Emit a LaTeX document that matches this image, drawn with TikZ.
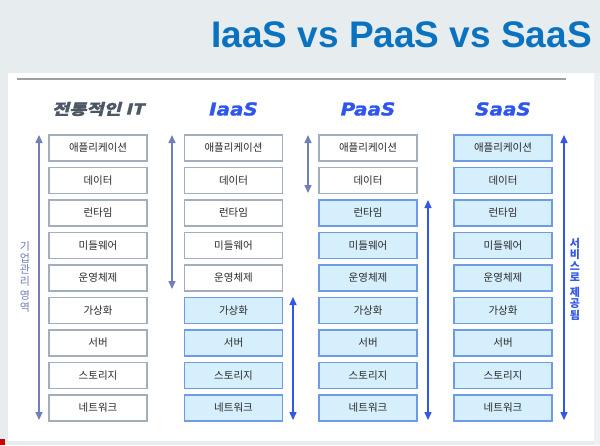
\documentclass[tikz,border=0pt]{standalone}
\usepackage{fontspec}
\usetikzlibrary{arrows.meta}
\setmainfont{Liberation Sans}
\newfontfamily\kr{Noto Sans CJK KR}
\newfontfamily\krhead[FakeSlant=0.2,BoldFeatures={FakeBold=1.2}]{Noto Sans CJK KR}
\newfontfamily\hdfont[BoldItalicFeatures={FakeBold=1.4}]{DejaVu Sans}
\definecolor{bg}{HTML}{E7ECEE}
\definecolor{bgr}{HTML}{EEF1F3}
\definecolor{titleblue}{HTML}{0B72C0}
\definecolor{hdblue}{HTML}{2F55F0}
\definecolor{hdgray}{HTML}{4D5867}
\definecolor{gborder}{HTML}{A3AEBD}
\definecolor{bborder}{HTML}{6E9BE6}
\definecolor{bfill}{HTML}{D6EFFC}
\definecolor{garr}{HTML}{7080B8}
\definecolor{barr}{HTML}{3355E8}
\definecolor{txt}{HTML}{2A2A2A}
\begin{document}
\begin{tikzpicture}[x=1pt,y=-1pt,
  layer/.style={draw=gborder,fill=white,line width=1.1pt,minimum width=98pt,minimum height=26pt,inner sep=0pt,font=\kr\fontsize{10.5}{12}\selectfont,text=txt},
  blayer/.style={layer,draw=bborder,fill=bfill},
  garrow/.style={{Triangle[width=7pt,length=8pt]}-{Triangle[width=7pt,length=8pt]},line width=1.5pt,draw=garr},
  barrow/.style={{Triangle[width=7pt,length=8pt]}-{Triangle[width=7pt,length=8pt]},line width=1.5pt,draw=barr},
  head/.style={font=\hdfont\bfseries\itshape\fontsize{17.8}{20}\selectfont,text=hdblue,inner sep=0pt}
]
\useasboundingbox (0,0) rectangle (600,445);
\fill[bg] (0,0) rectangle (600,445);
\fill[bgr] (594,73) rectangle (600,445);
\fill[white] (8,73) rectangle (594,441);
\fill[red!80!black] (0,439) rectangle (5,445);
\draw[color=gray!75,line width=1.2pt] (17,79) -- (566,79);

\node[anchor=base east,inner sep=0pt,font=\bfseries\fontsize{37}{40}\selectfont,text=titleblue] (title) at (592,47) {IaaS vs PaaS vs SaaS};

% headers
\node[inner sep=0pt,text=hdgray,font=\krhead\bfseries\fontsize{15}{17}\selectfont] (h1) at (98,109) {\scalebox{1.25}[1]{전통적인 IT}};
\node[head] (h2) at (233.5,109) {\scalebox{1.12}[1]{IaaS}};
\node[head] (h3) at (368,109) {\scalebox{1.12}[1]{PaaS}};
\node[head] (h4) at (503,109) {\scalebox{1.12}[1]{SaaS}};

% column 1
\node[layer] (a1) at (98,148) {애플리케이션};
\node[layer] (a2) at (98,180.5) {데이터};
\node[layer] (a3) at (98,213) {런타임};
\node[layer] (a4) at (98,245.5) {미들웨어};
\node[layer] (a5) at (98,278) {운영체제};
\node[layer] (a6) at (98,310.5) {가상화};
\node[layer] (a7) at (98,343) {서버};
\node[layer] (a8) at (98,375.5) {스토리지};
\node[layer] (a9) at (98,408) {네트워크};
% column 2
\node[layer] (b1) at (233.5,148) {애플리케이션};
\node[layer] (b2) at (233.5,180.5) {데이터};
\node[layer] (b3) at (233.5,213) {런타임};
\node[layer] (b4) at (233.5,245.5) {미들웨어};
\node[layer] (b5) at (233.5,278) {운영체제};
\node[blayer] (b6) at (233.5,310.5) {가상화};
\node[blayer] (b7) at (233.5,343) {서버};
\node[blayer] (b8) at (233.5,375.5) {스토리지};
\node[blayer] (b9) at (233.5,408) {네트워크};
% column 3
\node[layer] (c1) at (368,148) {애플리케이션};
\node[layer] (c2) at (368,180.5) {데이터};
\node[blayer] (c3) at (368,213) {런타임};
\node[blayer] (c4) at (368,245.5) {미들웨어};
\node[blayer] (c5) at (368,278) {운영체제};
\node[blayer] (c6) at (368,310.5) {가상화};
\node[blayer] (c7) at (368,343) {서버};
\node[blayer] (c8) at (368,375.5) {스토리지};
\node[blayer] (c9) at (368,408) {네트워크};
% column 4
\node[blayer] (d1) at (503,148) {애플리케이션};
\node[blayer] (d2) at (503,180.5) {데이터};
\node[blayer] (d3) at (503,213) {런타임};
\node[blayer] (d4) at (503,245.5) {미들웨어};
\node[blayer] (d5) at (503,278) {운영체제};
\node[blayer] (d6) at (503,310.5) {가상화};
\node[blayer] (d7) at (503,343) {서버};
\node[blayer] (d8) at (503,375.5) {스토리지};
\node[blayer] (d9) at (503,408) {네트워크};

% arrows
\coordinate (p1t) at (39,135); \coordinate (p1b) at (39,420);
\coordinate (p2t) at (172,135); \coordinate (p2b) at (172,289);
\coordinate (p3t) at (293,297); \coordinate (p3b) at (293,420);
\coordinate (p4t) at (308,135); \coordinate (p4b) at (308,193);
\coordinate (p5t) at (428,200); \coordinate (p5b) at (428,420);
\coordinate (p6t) at (564,135); \coordinate (p6b) at (564,420);
\draw[garrow] (p1t) -- (p1b);
\draw[garrow] (p2t) -- (p2b);
\draw[barrow] (p3t) -- (p3b);
\draw[garrow] (p4t) -- (p4b);
\draw[barrow] (p5t) -- (p5b);
\draw[barrow] (p6t) -- (p6b);

% vertical labels
\node[align=center,inner sep=0pt,text=garr,font=\kr\fontsize{11}{11.5}\selectfont] (lab1) at (25,277) {기\\업\\관\\리\\[3pt]영\\역};
\node[align=center,inner sep=0pt,text=barr,font=\kr\bfseries\fontsize{11}{11.5}\selectfont] (lab2) at (575,279) {서\\비\\스\\로\\[3pt]제\\공\\됨};
\end{tikzpicture}
\end{document}
